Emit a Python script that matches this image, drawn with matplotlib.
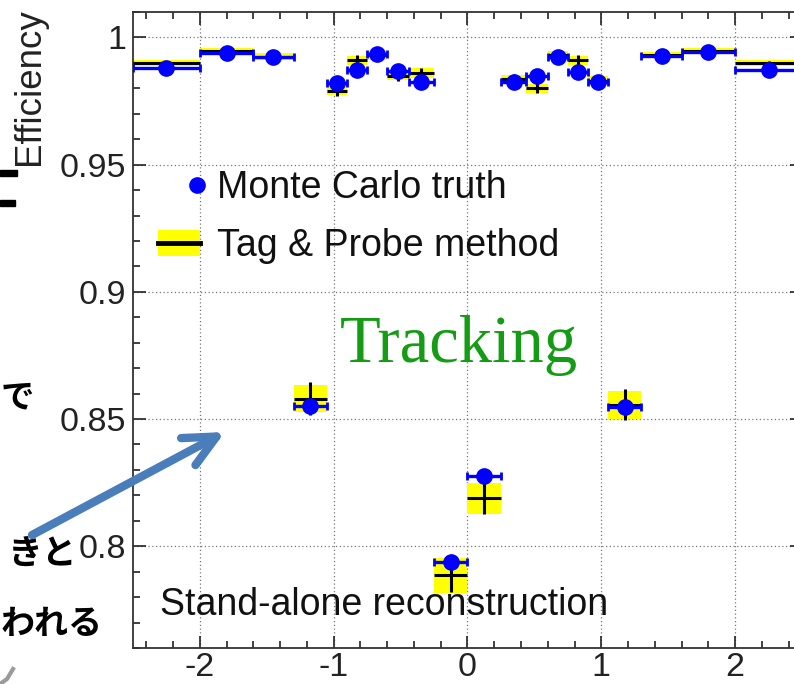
import numpy as np
import matplotlib
matplotlib.use("Agg")
import matplotlib.pyplot as plt
from matplotlib.patches import Patch, Rectangle, FancyArrowPatch
from matplotlib.lines import Line2D
from matplotlib.legend_handler import HandlerLine2D, HandlerTuple
from matplotlib.ticker import MultipleLocator, FuncFormatter

plt.rcParams['font.family'] = ['Liberation Sans', 'DejaVu Sans']
plt.rcParams['axes.unicode_minus'] = False

# pseudorapidity binning
eta_edges = [-2.5, -2.0, -1.6, -1.3, -1.05, -0.9, -0.75, -0.6, -0.44, -0.25,
             0.0, 0.25, 0.44, 0.6, 0.75, 0.9, 1.05, 1.3, 1.6, 2.0, 2.5]

# Monte Carlo truth efficiency per bin
eff_mc = [0.9878, 0.9938, 0.9923, 0.8550, 0.9820, 0.9873, 0.9936, 0.9868, 0.9825, 0.7937,
          0.8275, 0.9825, 0.9847, 0.9925, 0.9864, 0.9825, 0.8546, 0.9929, 0.9942, 0.9871]
err_mc = [0.0005] * 20

# Tag & Probe efficiency, statistical and systematic uncertainties
eff_tp = [0.9901, 0.9946, 0.9925, 0.8580, 0.9790, 0.9910, 0.9930, 0.9850, 0.9860, 0.7886,
          0.8188, 0.9835, 0.9800, 0.9930, 0.9910, 0.9830, 0.8557, 0.9930, 0.9945, 0.9900]
stat_tp = [0.0008, 0.0008, 0.0008, 0.0065, 0.0020, 0.0020, 0.0020, 0.0020, 0.0020, 0.0066,
           0.0060, 0.0020, 0.0020, 0.0020, 0.0020, 0.0020, 0.0060, 0.0008, 0.0008, 0.0008]
syst_tp = [0.0012, 0.0012, 0.0012, 0.0052, 0.0018, 0.0018, 0.0018, 0.0018, 0.0018, 0.0068,
           0.0060, 0.0018, 0.0018, 0.0018, 0.0018, 0.0018, 0.0055, 0.0012, 0.0012, 0.0012]

edges = np.array(eta_edges)
centers = 0.5 * (edges[:-1] + edges[1:])
widths = np.diff(edges)
tp = np.array(eff_tp)
syst = np.array(syst_tp)

W, H = 794, 684
fig = plt.figure(figsize=(W / 100, H / 100), dpi=100)
fig.patch.set_facecolor('white')

ax = fig.add_axes([133 / W, 1 - 648 / H, (802 - 133) / W, (648 - 12) / H])

BLUE = '#0000ff'
YELLOW = '#ffff00'

# systematic bands
ax.bar(edges[:-1], 2 * syst, width=widths, bottom=tp - syst, align='edge',
       color=YELLOW, linewidth=0, zorder=2)
# tag & probe points with statistical errors
ax.errorbar(centers, tp, xerr=widths / 2, yerr=stat_tp, fmt='none',
            ecolor='black', elinewidth=2.2, capsize=0, zorder=3)
# Monte Carlo truth
ax.errorbar(centers, eff_mc, xerr=widths / 2, yerr=err_mc, fmt='o', color=BLUE,
            ms=11, elinewidth=2.4, capsize=3, capthick=2, zorder=4)

ax.set_xlim(-2.5, 2.5)
ax.set_ylim(0.76, 1.01)
ax.xaxis.set_major_locator(MultipleLocator(1))
ax.xaxis.set_minor_locator(MultipleLocator(0.2))
ax.yaxis.set_major_locator(MultipleLocator(0.05))
ax.yaxis.set_minor_locator(MultipleLocator(0.01))
ax.yaxis.set_major_formatter(FuncFormatter(lambda v, p: f'{v:g}'))
ax.xaxis.set_major_formatter(FuncFormatter(lambda v, p: f'{v:g}'))
ax.tick_params(which='both', direction='in', top=True, right=True, width=1.2,
               labelsize=24.5, colors='#222222')
ax.tick_params(which='major', length=9, pad=5)
ax.tick_params(which='minor', length=5)
ax.tick_params(axis='x', which='major', pad=3)
for s in ax.spines.values():
    s.set_linewidth(1.3)
    s.set_color('#333333')
ax.grid(which='major', linestyle=(0, (1, 2)), color='#777777', linewidth=0.9, zorder=1)
ax.set_axisbelow(True)

fig.text(29 / W, 1 - 8 / H, 'Efficiency', rotation=90, ha='center', va='top',
         fontsize=26.5, color='#222222')


class RightMarkerHandler(HandlerLine2D):
    """Legend handler that places the single marker near the right end of the key."""
    def get_xdata(self, legend, xdescent, ydescent, width, height, fontsize):
        xm = width - 0.08 * fontsize
        return np.array([xm - 0.5, xm + 0.5]), [xm]


mc_handle = Line2D([], [], marker='o', color=BLUE, ls='none', ms=11)
tp_handle = (Patch(facecolor=YELLOW, edgecolor='none'),
             Line2D([], [], color='black', lw=3.5))
ax.legend([mc_handle, tp_handle], ['Monte Carlo truth', 'Tag & Probe method'],
          handler_map={mc_handle: RightMarkerHandler(numpoints=1),
                       tuple: HandlerTuple(ndivide=1, pad=0)},
          loc='upper left', bbox_to_anchor=(158 / W, 1 - 170 / H),
          bbox_transform=fig.transFigure, frameon=False, fontsize=27,
          handlelength=1.12, handleheight=0.68, handletextpad=0.45,
          labelspacing=0.6, borderpad=0, borderaxespad=0, labelcolor='#111111')

ax.text(340 / W, 1 - 362 / H, 'Tracking', transform=fig.transFigure,
        family=['Liberation Serif', 'DejaVu Serif'], fontsize=48,
        color='#149c14', ha='left', va='baseline', zorder=6)
ax.text(160 / W, 1 - 615 / H, 'Stand-alone reconstruction', transform=fig.transFigure,
        fontsize=27, color='#111111', ha='left', va='baseline', zorder=6)

# slide annotations on the left
jp = ['Noto Sans CJK JP', 'DejaVu Sans']
fig.text(1 / W, 1 - 398 / H, 'で', ha='left', va='center', fontsize=24,
         fontweight='bold', family=jp, zorder=7)
fig.text(77 / W, 1 - 554 / H, 'きと', ha='right', va='center', fontsize=25,
         fontweight='bold', family=jp, zorder=7)
fig.text(1 / W, 1 - 624 / H, 'われる', ha='left', va='center', fontsize=24.5,
         fontweight='bold', family=jp, zorder=7)
fig.add_artist(Rectangle((0, 1 - 176 / H), 17 / W, 6 / H, transform=fig.transFigure,
                         color='black', zorder=7))
fig.add_artist(Rectangle((0, 1 - 206 / H), 15 / W, 6 / H, transform=fig.transFigure,
                         color='black', zorder=7))
fig.add_artist(Line2D([0 / W, 7 / W, 13 / W], [1 - 684 / H, 1 - 679 / H, 1 - 669 / H],
                      transform=fig.transFigure, color='#9a9a9a', lw=3, zorder=7))

arrow = FancyArrowPatch((32 / W, 1 - 535 / H), (225 / W, 1 - 432 / H),
                        transform=fig.transFigure,
                        arrowstyle='->,head_length=2.3,head_width=1.1',
                        mutation_scale=10, lw=6, color='#4a7ebb',
                        shrinkA=0, shrinkB=0, zorder=8)
fig.add_artist(arrow)

fig.savefig('out.png', dpi=100, facecolor='white')
